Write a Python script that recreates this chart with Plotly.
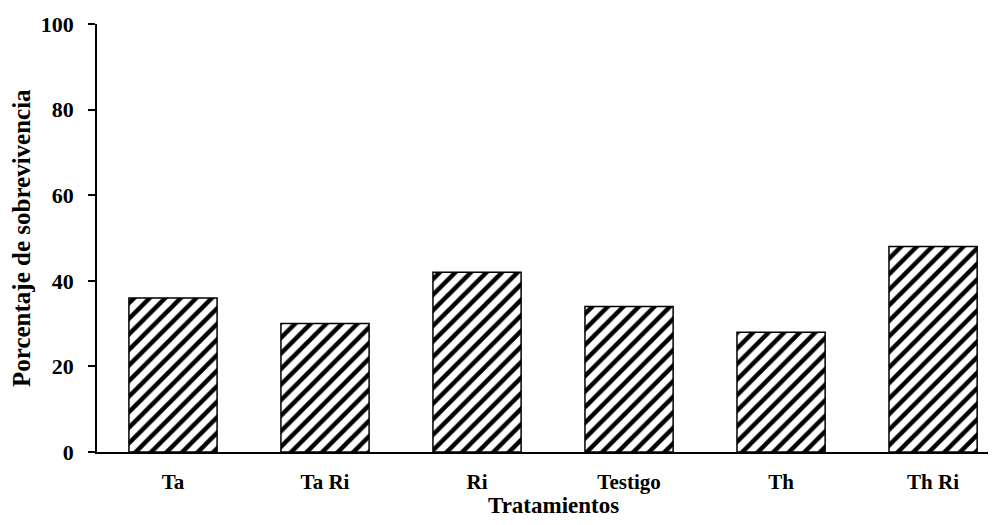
import plotly.graph_objects as go

categories = ["Ta", "Ta Ri", "Ri", "Testigo", "Th", "Th Ri"]
values = [36, 30, 42, 34, 28, 48]
y_ticks = [0, 20, 40, 60, 80, 100]

font_family = "Liberation Serif, Times New Roman, serif"

fig = go.Figure(
    go.Bar(
        x=categories,
        y=values,
        width=0.58,
        marker=dict(
            color="white",
            line=dict(color="black", width=1.5),
            pattern=dict(shape="/", size=11, solidity=0.4, fgcolor="black",
                         bgcolor="white", fgopacity=1, fillmode="replace"),
        ),
    )
)

# page has an 8px body offset; compensate so the plot lands where the reference has it
W, H = 988, 517
L, T, B = 89, 16, 73

fig.update_layout(
    width=W,
    height=H,
    margin=dict(l=L, r=0, t=T, b=B),
    paper_bgcolor="white",
    plot_bgcolor="white",
    showlegend=False,
    font=dict(family=font_family, color="black"),
    annotations=[
        dict(text="<b>Porcentaje de sobrevivencia</b>", xref="paper", yref="paper",
             x=0, y=0.5, xshift=-76, textangle=-90, showarrow=False,
             xanchor="center", yanchor="middle",
             font=dict(size=25, family=font_family, color="black")),
        dict(text="<b>Tratamientos</b>", xref="paper", yref="paper",
             x=(545 - L) / (W - L), y=0, yshift=-53, showarrow=False,
             xanchor="center", yanchor="middle",
             font=dict(size=23, family=font_family, color="black")),
    ],
)

fig.update_xaxes(
    range=[-0.5, 5.414],
    showline=True,
    linecolor="black",
    linewidth=1.5,
    ticks="",
    showgrid=False,
    tickfont=dict(size=21, family=font_family, color="black", weight="bold"),
    ticklabelstandoff=10,
)

fig.update_yaxes(
    range=[0, 100],
    tickvals=y_ticks,
    showline=True,
    linecolor="black",
    linewidth=1.5,
    ticks="outside",
    ticklen=7,
    tickwidth=1.5,
    tickcolor="black",
    showgrid=False,
    zeroline=False,
    tickfont=dict(size=22, family=font_family, color="black", weight="bold"),
    ticklabelstandoff=10,
)

fig.write_html("out.html")
